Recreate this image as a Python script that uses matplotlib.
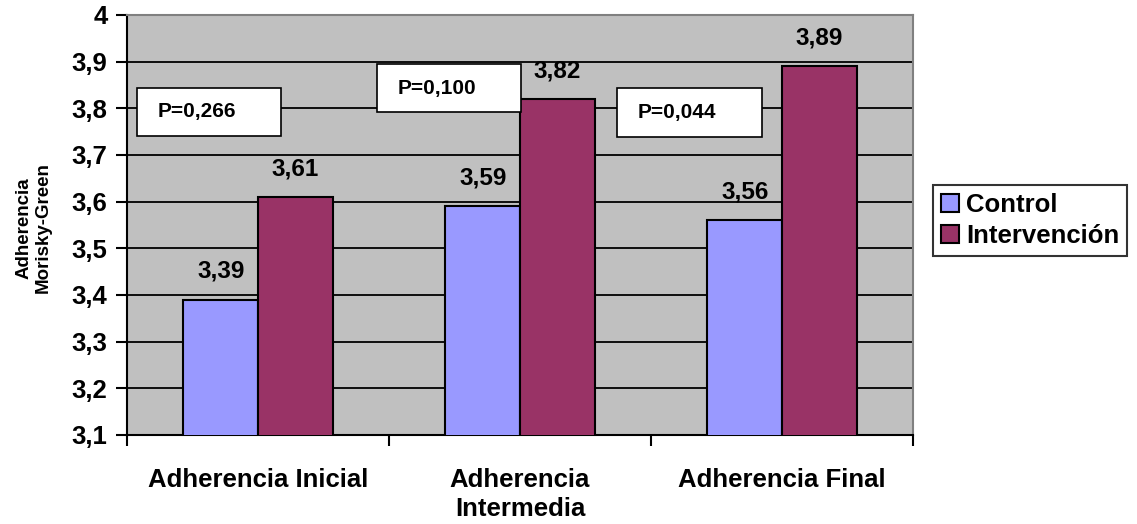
import matplotlib.pyplot as plt
from matplotlib.patches import Rectangle
import numpy as np

plt.rcParams['font.family'] = ['Liberation Sans', 'DejaVu Sans']
plt.rcParams['font.weight'] = 'bold'

## data ##
categories = ["Adherencia Inicial", "Adherencia\nIntermedia", "Adherencia Final"]
control = [3.39, 3.59, 3.56]
intervencion = [3.61, 3.82, 3.89]
p_labels = ["P=0,266", "P=0,100", "P=0,044"]
y_ticks = [3.1, 3.2, 3.3, 3.4, 3.5, 3.6, 3.7, 3.8, 3.9, 4.0]

## p-value box placement (data coords: x0, x1, y0, y1) ##
p_boxes = [(-0.462, 0.088, 3.741, 3.844),
           (0.454, 1.004, 3.792, 3.895),
           (1.370, 1.924, 3.739, 3.844)]

col_control = "#9999FF"
col_interv = "#993366"

fig = plt.figure(figsize=(11.37, 5.24), dpi=100)
ax = fig.add_axes([127 / 1137, 1 - 435 / 524, (913 - 127) / 1137, (435 - 15) / 524])
ax.set_facecolor("#C0C0C0")

x = np.arange(len(categories))
w = 0.285
ax.bar(x - w / 2, control, w, bottom=0, color=col_control, edgecolor="black",
       linewidth=1.5, label="Control", zorder=3)
ax.bar(x + w / 2, intervencion, w, bottom=0, color=col_interv, edgecolor="black",
       linewidth=1.5, label="Intervención", zorder=3)

for xi, v in zip(x - w / 2, control):
    ax.text(xi, v + 0.036, f"{v:.2f}".replace(".", ","), ha="center", va="bottom",
            fontsize=17.5, fontweight="bold", zorder=5)
for xi, v in zip(x + w / 2, intervencion):
    ax.text(xi, v + 0.036, f"{v:.2f}".replace(".", ","), ha="center", va="bottom",
            fontsize=17.5, fontweight="bold", zorder=5)

for (x0, x1, y0, y1), lab in zip(p_boxes, p_labels):
    ax.add_patch(Rectangle((x0, y0), x1 - x0, y1 - y0, facecolor="white",
                           edgecolor="black", linewidth=1.2, zorder=4))
    ax.text(x0 + 0.08, (y0 + y1) / 2, lab, ha="left", va="center",
            fontsize=15, fontweight="bold", zorder=5)

ax.set_xlim(-0.5, 2.5)
ax.set_ylim(3.1, 4.0)
ax.set_yticks(y_ticks)
ax.set_yticklabels([f"{t:.1f}".replace(".", ",").replace("4,0", "4") for t in y_ticks],
                   fontsize=18.5, fontweight="bold")
ax.yaxis.grid(True, color="black", linewidth=1.3, zorder=1)
ax.set_axisbelow(True)

ax.set_xticks(x)
ax.set_xticklabels(categories, fontsize=18.5, fontweight="bold", linespacing=1.25)
ax.tick_params(axis="x", which="major", length=0, pad=24)
ax.set_xticks([-0.5, 0.5, 1.5, 2.5], minor=True)
ax.tick_params(axis="x", which="minor", length=8, width=1.5, direction="out")
ax.tick_params(axis="y", length=8, width=1.5, direction="out", pad=6)

for s in ["left", "bottom"]:
    ax.spines[s].set_color("black")
    ax.spines[s].set_linewidth(1.5)
for s in ["top", "right"]:
    ax.spines[s].set_color("#808080")
    ax.spines[s].set_linewidth(1.5)

fig.text(34 / 1137, 1 - 228 / 524, "Adherencia\nMorisky-Green", rotation=90,
         ha="center", va="center", fontsize=13.5, fontweight="bold", linespacing=1.15)

leg = fig.legend(loc="upper left", bbox_to_anchor=(933 / 1137, 1 - 185 / 524),
                 frameon=True, fancybox=False, edgecolor="black",
                 prop={"size": 18.5, "weight": "bold"}, handlelength=0.7,
                 handleheight=0.7, handletextpad=0.3, borderpad=0.3,
                 labelspacing=0.3, borderaxespad=0)
leg.get_frame().set_linewidth(1.5)

fig.savefig("out.png", dpi=100)
